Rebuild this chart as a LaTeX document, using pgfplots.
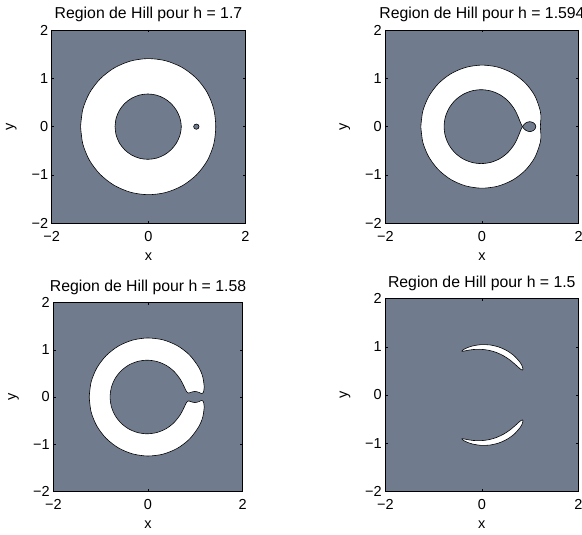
\documentclass[border=0pt]{standalone}
\usepackage{fontspec}
\setmainfont{Liberation Sans}
\usepackage{pgfplots}
\pgfplotsset{compat=1.18}
\definecolor{slate}{RGB}{112,124,142}
\newcommand{\mfont}{\fontsize{14.5}{17}\selectfont}
\newcommand{\tfont}{\fontsize{15.8}{18}\selectfont}
\pgfplotsset{
  hill/.style={
    scale only axis,
    anchor=south west,
    xmin=-2, xmax=2, ymin=-2, ymax=2,
    axis background/.style={fill=slate},
    xtick={-2,0,2}, xticklabels={−2,0,2},
    ytick={-2,-1,0,1,2}, yticklabels={−2,−1,0,1,2},
    tick align=inside,
    major tick length=2.5pt,
    every tick/.style={black, line width=0.5pt},
    axis line style={line width=0.8pt},
    tick label style={font=\mfont},
    xticklabel style={yshift=-5pt},
    xlabel={x}, ylabel={y},
    every axis x label/.style={at={(axis description cs:0.5,-0.195)}, anchor=base, font=\mfont},
    every axis y label/.style={at={(axis description cs:-0.197,0.5)}, rotate=90, anchor=base, font=\mfont},
    every axis title shift=0pt,
    title style={font=\tfont, at={(0.5,1.057)}, anchor=base},
  },
  contour/.style={draw=black, line width=0.6pt, smooth},
}
\begin{document}
\begin{tikzpicture}
\useasboundingbox (0pt,0pt) rectangle (582pt,535pt);

% h = 1.7
\begin{axis}[hill, at={(51.7pt,311.7pt)}, width=193.6pt, height=193.3pt,
  title={Region de Hill pour h = 1.7}]
\addplot[contour, fill=white] coordinates {
 (-1.4036,0) (-1.3567,0.3603) (-1.2193,0.6970) (-0.9996,0.9875) (-0.7122,1.2125)
 (-0.3756,1.3563) (-0.0122,1.4082) (0.3533,1.3638) (0.6952,1.2252) (0.9890,1.0011)
 (1.2125,0.7071) (1.3480,0.3644) (1.3893,0) (1.3480,-0.3644) (1.2125,-0.7071)
 (0.9890,-1.0011) (0.6952,-1.2252) (0.3533,-1.3638) (-0.0122,-1.4082) (-0.3756,-1.3563)
 (-0.7122,-1.2125) (-0.9996,-0.9875) (-1.2193,-0.6970) (-1.3567,-0.3603) (-1.4036,0)
} -- cycle;
\addplot[contour, fill=slate] coordinates {
 (-0.6916,0) (-0.6684,0.1758) (-0.6001,0.3395) (-0.4917,0.4796) (-0.3509,0.5866)
 (-0.1873,0.6535) (-0.0122,0.6759) (0.1627,0.6525) (0.3257,0.5851) (0.4664,0.4785)
 (0.5764,0.3398) (0.6498,0.1774) (0.6783,0) (0.6498,-0.1774) (0.5764,-0.3398)
 (0.4664,-0.4785) (0.3257,-0.5851) (0.1627,-0.6525) (-0.0122,-0.6759) (-0.1873,-0.6535)
 (-0.3509,-0.5866) (-0.4917,-0.4796) (-0.6001,-0.3395) (-0.6684,-0.1758) (-0.6916,0)
} -- cycle;
\addplot[contour, fill=slate] coordinates {
 (1.0433,0) (1.0271,0.0383) (0.9880,0.0542) (0.9489,0.0383) (0.9327,0)
 (0.9489,-0.0383) (0.9880,-0.0542) (1.0271,-0.0383) (1.0433,0)
} -- cycle;
\end{axis}

% h = 1.594
\begin{axis}[hill, at={(385.3pt,311.7pt)}, width=193.4pt, height=193.3pt,
  title={Region de Hill pour h = 1.594}]
\addplot[contour, fill=white] coordinates {
 (-1.2652,0) (-1.2231,0.3245) (-1.0996,0.6279) (-0.9027,0.8905) (-0.6440,1.0944)
 (-0.3405,1.2253) (-0.0122,1.2734) (0.3185,1.2341) (0.6282,1.1090) (0.8936,0.9057)
 (1.0932,0.6382) (1.2056,0.3263) (1.2176,0.1619) (1.2066,0) (1.2176,-0.1619)
 (1.2056,-0.3263) (1.0932,-0.6382) (0.8936,-0.9057) (0.6282,-1.1090) (0.3185,-1.2341)
 (-0.0122,-1.2734) (-0.3405,-1.2253) (-0.6440,-1.0944) (-0.9027,-0.8905) (-1.0996,-0.6279)
 (-1.2231,-0.3245) (-1.2652,0)
} -- cycle;
\addplot[contour, fill=slate] coordinates {
 (0.8369,0) (0.8009,0.0711) (0.7746,0.1387) (0.7207,0.2667) (0.6558,0.3857)
 (0.5291,0.5413) (0.3697,0.6613) (0.1855,0.7375) (-0.0122,0.7645) (-0.2104,0.7399)
 (-0.3960,0.6648) (-0.5561,0.5440) (-0.6794,0.3853) (-0.7574,0.1997) (-0.7840,0)
 (-0.7574,-0.1997) (-0.6794,-0.3853) (-0.5561,-0.5440) (-0.3960,-0.6648) (-0.2104,-0.7399)
 (-0.0122,-0.7645) (0.1855,-0.7375) (0.3697,-0.6613) (0.5291,-0.5413) (0.6558,-0.3857)
 (0.7207,-0.2667) (0.7746,-0.1387) (0.8009,-0.0711) (0.8369,0)
} -- cycle;
\addplot[contour, fill=slate] coordinates {
 (0.8369,0) (0.8682,0.0435) (0.9091,0.0787) (0.9879,0.1029) (1.0669,0.0791)
 (1.1007,0.0411) (1.1140,0) (1.1007,-0.0411) (1.0669,-0.0791) (0.9879,-0.1029)
 (0.9091,-0.0787) (0.8682,-0.0435) (0.8369,0)
} -- cycle;
\end{axis}

% h = 1.58
\begin{axis}[hill, at={(53.3pt,43.7pt)}, width=189.4pt, height=188.6pt,
  title={Region de Hill pour h = 1.58}]
\addplot[contour, fill=white] coordinates {
 (-1.2422,0) (-1.2010,0.3186) (-1.0800,0.6166) (-0.8866,0.8744) (-0.6328,1.0750)
 (-0.3347,1.2039) (-0.0122,1.2514) (0.3129,1.2131) (0.6173,1.0902) (0.8782,0.8904)
 (1.0741,0.6272) (1.1566,0.4254) (1.1875,0.2115)
 (1.1800,0.1410) (1.1704,0.1035) (1.1557,0.0821) (1.1400,0.0738) (1.1200,0.0776)
 (1.0800,0.0963) (1.0300,0.1129) (0.9879,0.1167) (0.9500,0.1122) (0.9000,0.0960)
 (0.8600,0.0845) (0.8369,0.0914) (0.8200,0.1086) (0.7987,0.1429)
 (0.7377,0.2729) (0.6699,0.3938) (0.5403,0.5525) (0.3774,0.6747) (0.1895,0.7526)
 (-0.0122,0.7803) (-0.2146,0.7554) (-0.4041,0.6789) (-0.5677,0.5555) (-0.6937,0.3935)
 (-0.7735,0.2040) (-0.8003,0)
 (-0.7735,-0.2040) (-0.6937,-0.3935) (-0.5677,-0.5555) (-0.4041,-0.6789) (-0.2146,-0.7554)
 (-0.0122,-0.7803) (0.1895,-0.7526) (0.3774,-0.6747) (0.5403,-0.5525) (0.6699,-0.3938)
 (0.7377,-0.2729) (0.7987,-0.1429)
 (0.8200,-0.1086) (0.8369,-0.0914) (0.8600,-0.0845) (0.9000,-0.0960) (0.9500,-0.1122)
 (0.9879,-0.1167) (1.0300,-0.1129) (1.0800,-0.0963) (1.1200,-0.0776) (1.1400,-0.0738)
 (1.1557,-0.0821) (1.1704,-0.1035) (1.1800,-0.1410)
 (1.1875,-0.2115) (1.1566,-0.4254) (1.0741,-0.6272) (0.8782,-0.8904) (0.6173,-1.0902)
 (0.3129,-1.2131) (-0.0122,-1.2514) (-0.3347,-1.2039) (-0.6328,-1.0750) (-0.8866,-0.8744)
 (-1.0800,-0.6166) (-1.2010,-0.3186) (-1.2422,0)
} -- cycle;
\end{axis}

% h = 1.5
\begin{axis}[hill, at={(385.3pt,43.7pt)}, width=193pt, height=192.6pt,
  title={Region de Hill pour h = 1.5}]
\addplot[contour, fill=white] coordinates {
 (0.8459,0.5196) (0.8529,0.5406) (0.8385,0.5957) (0.7937,0.6762) (0.6706,0.8137)
 (0.5198,0.9214) (0.3508,0.9971) (0.1711,1.0391) (-0.0122,1.0463) (-0.1918,1.0187)
 (-0.2778,0.9915) (-0.3596,0.9547) (-0.4050,0.9256) (-0.4123,0.9116)
 (-0.3973,0.9072) (-0.3458,0.9168) (-0.2621,0.9329) (-0.1786,0.9442) (-0.0122,0.9484)
 (0.1513,0.9270) (0.3084,0.8806) (0.4559,0.8107) (0.5919,0.7198) (0.7172,0.6120)
 (0.7798,0.5546) (0.8241,0.5226) (0.8459,0.5196)
} -- cycle;
\addplot[contour, fill=white] coordinates {
 (0.8459,-0.5196) (0.8529,-0.5406) (0.8385,-0.5957) (0.7937,-0.6762) (0.6706,-0.8137)
 (0.5198,-0.9214) (0.3508,-0.9971) (0.1711,-1.0391) (-0.0122,-1.0463) (-0.1918,-1.0187)
 (-0.2778,-0.9915) (-0.3596,-0.9547) (-0.4050,-0.9256) (-0.4123,-0.9116)
 (-0.3973,-0.9072) (-0.3458,-0.9168) (-0.2621,-0.9329) (-0.1786,-0.9442) (-0.0122,-0.9484)
 (0.1513,-0.9270) (0.3084,-0.8806) (0.4559,-0.8107) (0.5919,-0.7198) (0.7172,-0.6120)
 (0.7798,-0.5546) (0.8241,-0.5226) (0.8459,-0.5196)
} -- cycle;
\end{axis}
\end{tikzpicture}
\end{document}
